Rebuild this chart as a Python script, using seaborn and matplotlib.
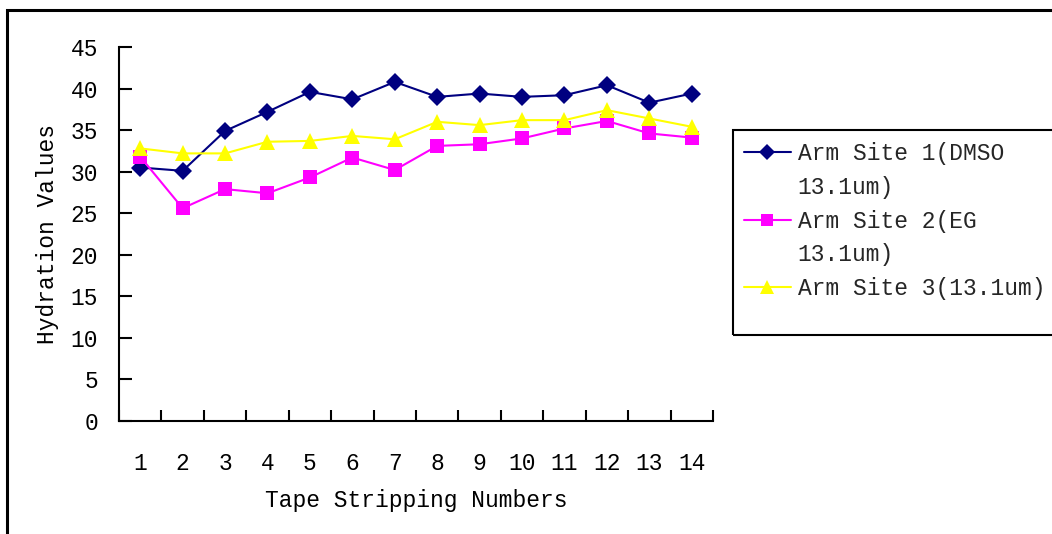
import numpy as np
import pandas as pd
import matplotlib
matplotlib.use("Agg")
import matplotlib.pyplot as plt
from matplotlib.patches import Rectangle
from matplotlib.lines import Line2D
import seaborn as sns

# Tape stripping number (x) and hydration readings for three arm sites
strips = list(range(1, 15))
site1_dmso = [30.5, 30.1, 34.9, 37.2, 39.6, 38.7, 40.8, 39.0, 39.4, 39.0, 39.2, 40.4, 38.3, 39.4]
site2_eg = [31.8, 25.6, 27.9, 27.4, 29.3, 31.7, 30.2, 33.1, 33.3, 34.0, 35.2, 36.1, 34.6, 34.1]
site3 = [32.8, 32.2, 32.2, 33.6, 33.7, 34.3, 33.9, 36.0, 35.6, 36.2, 36.2, 37.4, 36.4, 35.4]

series_names = ["Arm Site 1(DMSO 13.1um)", "Arm Site 2(EG 13.1um)", "Arm Site 3(13.1um)"]
# legend text is wrapped the way the chart shows it
legend_lines = [["Arm Site 1(DMSO", "13.1um)"], ["Arm Site 2(EG", "13.1um)"], ["Arm Site 3(13.1um)"]]
series_values = [site1_dmso, site2_eg, site3]
series_colors = ["#000080", "#FF00FF", "#FFFF00"]
series_markers = ["D", "s", "^"]
marker_sizes = [9, 9.5, 11.5]

y_ticks = list(range(0, 50, 5))

df = pd.DataFrame({
    "strip": np.tile(strips, len(series_names)),
    "value": np.concatenate(series_values),
    "series": np.repeat(series_names, len(strips)),
})

sns.set_theme(style="white")
plt.rcParams["font.family"] = ["Liberation Mono", "DejaVu Sans"]
FS = 16.5
plt.rcParams["font.size"] = FS

W, H = 1052, 534
fig = plt.figure(figsize=(W / 100, H / 100), dpi=100)
fig.patch.set_facecolor("white")

# axes placed in pixel terms: left 119, right 713, top 47, bottom 421
ax = fig.add_axes([119 / W, 1 - 421 / H, (713 - 119) / W, (421 - 47) / H])

sns.lineplot(
    data=df, x="strip", y="value", hue="series", style="series",
    hue_order=series_names, style_order=series_names,
    palette=dict(zip(series_names, series_colors)),
    markers=dict(zip(series_names, series_markers)),
    dashes=False, linewidth=1.5, markersize=9, markeredgewidth=0,
    ax=ax, legend=False,
)
for line, ms in zip(ax.lines, marker_sizes):
    line.set_markersize(ms)

ax.set_xlim(0.5, 14.5)
ax.set_ylim(0, 45)
ax.set_yticks(y_ticks)
ax.set_xticks(strips)
ax.set_xticks(np.arange(0.5, 15, 1.0), minor=True)
ax.tick_params(axis="x", which="major", length=0, pad=22, labelsize=FS, colors="black")
ax.tick_params(axis="x", which="minor", direction="in", length=8, width=1.5, color="black", bottom=True)
ax.tick_params(axis="y", which="major", direction="in", length=9, width=1.5, pad=15,
               labelsize=FS, colors="black", left=True)

for side in ("top", "right"):
    ax.spines[side].set_visible(False)
for side in ("left", "bottom"):
    ax.spines[side].set_color("black")
    ax.spines[side].set_linewidth(1.5)
ax.grid(False)

ax.set_xlabel("Tape Stripping Numbers", fontsize=FS, color="black")
ax.set_ylabel("Hydration Values", fontsize=FS, color="black")
ax.xaxis.set_label_coords(0.5, -0.183)
ax.yaxis.set_label_coords(-0.101, 0.5)

# legend: one handle per series, continuation lines get a blank handle
handles, labels = [], []
for color, marker, ms, lines in zip(series_colors, series_markers, marker_sizes, legend_lines):
    handles.append(Line2D([], [], color=color, marker=marker, markersize=ms * 0.85,
                          markeredgewidth=0, linewidth=1.5))
    labels.append(lines[0])
    for extra in lines[1:]:
        handles.append(Line2D([], [], linestyle="none", marker=None))
        labels.append(extra)

ax.legend(handles, labels, loc="upper left",
          bbox_to_anchor=(744 / W, 1 - 142 / H), bbox_transform=fig.transFigure,
          frameon=False, fontsize=FS, handlelength=2.05, handletextpad=0.3,
          labelspacing=0.47, borderaxespad=0, borderpad=0)
fig.patches.append(Rectangle((733 / W, 1 - 335 / H), 400 / W, (335 - 130) / H,
                             transform=fig.transFigure, fill=False,
                             edgecolor="black", linewidth=1.5, zorder=5))

# outer chart frame, top and left edges visible
fig.patches.append(Rectangle((7 / W, -0.2), 1.3, 1.2 - 10 / H,
                             transform=fig.transFigure, fill=False,
                             edgecolor="black", linewidth=2.2, zorder=5))

fig.savefig("out.png", dpi=100)
